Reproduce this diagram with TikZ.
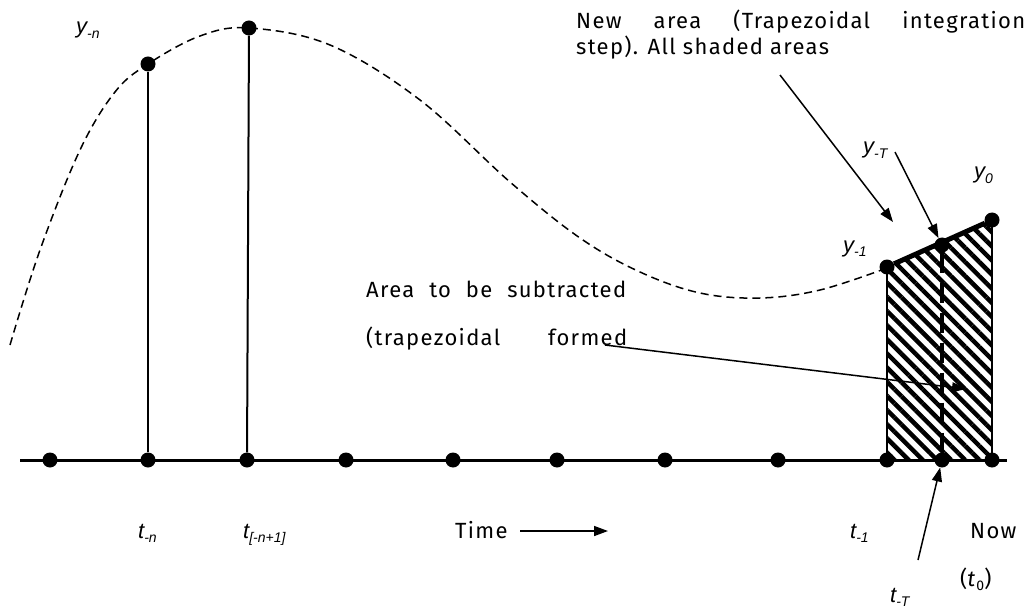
\documentclass[tikz,border=0pt]{standalone}
\usepackage{fontspec}
\setmainfont{Fira Sans}[LetterSpace=6]
\newfontfamily\varfont{Liberation Sans}
\usetikzlibrary{arrows.meta,patterns.meta}
\newcommand\lowsub[1]{\raisebox{-0.22em}{\fontsize{14}{14}\selectfont #1}}
\begin{document}
\begin{tikzpicture}[x=1pt,y=-1pt,
  dot/.style={circle,fill=black,inner sep=0pt,minimum size=15pt},
  arr/.style={line width=1.5pt,-{Triangle[length=14pt,width=10pt]}},
  var/.style={font=\varfont\itshape\fontsize{22}{24}\selectfont, inner sep=0pt, anchor=base west},
  txt/.style={font=\fontsize{22}{24}\selectfont, inner sep=0pt, anchor=base west}
]
\useasboundingbox (0,0) rectangle (1027,612);
% axis
\coordinate (axL) at (20,460);
\coordinate (axR) at (1007,460);
\draw[line width=3pt] (axL) -- (axR);
% hatched area
\fill[pattern={Lines[angle=-45,distance=10pt,line width=4.5pt]}] (887,460) -- (887,267) -- (992,220) -- (992,460) -- cycle;
\draw[line width=1.5pt] (887,460) -- (887,267) (992,220) -- (992,460);
% dashed curve
\draw[line width=1.5pt, dash pattern=on 8pt off 5pt] plot[smooth, tension=0.6] coordinates {(10,345) (40,250) (80,150) (115,92) (148,64) (200,36) (249,28) (330,45) (420,100) (510,182) (580,238) (640,272) (700,293) (760,298) (820,290) (887,268)};
% axis dots
\foreach \n/\x in {a1/50,a2/148,a3/247,a4/346,a5/453,a6/557,a7/665,a8/778,a9/887,aT/942,a0/992}
  \node[dot] (\n) at (\x,460) {};
% top dots
\node[dot] (pn) at (148,64) {};
\node[dot] (pn1) at (249,28) {};
\node[dot] (p1) at (887,267) {};
\node[dot] (pT) at (942,245) {};
\node[dot] (p0) at (992,220) {};
\draw[line width=2pt] (a2) -- (pn);
\draw[line width=2pt] (a3) -- (pn1);
\draw[line width=5pt] (p1) -- (p0);
\draw[line width=4pt, dash pattern=on 20pt off 10pt] (pT) -- (aT);
% variable labels
\node[var] (lyn) at (76,34) {y\lowsub{-n}};
\node[var] (ly1) at (843,252) {y\lowsub{-1}};
\node[var] (lyT) at (863,154) {y\lowsub{-T}};
\node[var] (ly0) at (974,179) {y\lowsub{0}};
\node[var] (ltn) at (138,538) {t\lowsub{-n}};
\node[var] (ltn1) at (243,538) {t\lowsub{[-n+1]}};
\node[var] (lt1) at (850,538) {t\lowsub{-1}};
\node[var] (ltT) at (890,602) {t\lowsub{-T}};
% texts
\node[txt] (new1) at (576,29) {\makebox[449pt][s]{New area (Trapezoidal integration}};
\node[txt] (new2) at (576,55) {step). All shaded areas};
\node[txt] (sub1) at (366,297) {\makebox[260pt][s]{Area to be subtracted}};
\node[txt] (sub2) at (366,345) {\makebox[261pt][s]{(trapezoidal formed}};
\node[txt] (time) at (455,538) {Time};
\node[txt] (now) at (970,538) {Now};
\node[txt] (t0) at (960,586) {(\textit{t}\lowsub{0})};
% arrows
\coordinate (s1) at (780,75);  \coordinate (e1) at (893,222);
\draw[arr] (s1) -- (e1);
\coordinate (s2) at (895,152);
\draw[arr] (s2) -- (pT);
\coordinate (s3) at (605,345); \coordinate (e3) at (966,389);
\draw[arr] (s3) -- (e3);
\coordinate (s4) at (918,560);
\draw[arr] (s4) -- (aT);
\coordinate (ts) at (520,531); \coordinate (te) at (608,531);
\draw[arr] (ts) -- (te);
\end{tikzpicture}
\end{document}
